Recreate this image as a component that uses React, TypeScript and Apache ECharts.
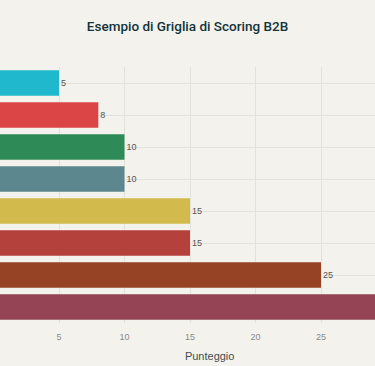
import React, { useEffect, useRef } from "react";
import * as echarts from "echarts";

const categories = [
  "Settore",
  "Localizzazione",
  "Numero Dipendenti",
  "Fatturato",
  "Budget",
  "Autorità Decisionale",
  "Necessità",
  "Tempistica",
];
const values = [5, 8, 10, 10, 15, 15, 25, 30];
const colors = ["#1FB8CD", "#DB4545", "#2E8B57", "#5D878F", "#D2BA4C", "#B4413C", "#964325", "#944454"];
const xTicks = [5, 10, 15, 20, 25];

const PAD = 60;
const VISIBLE_MAX = 29;

export default function App() {
  const ref = useRef<HTMLDivElement>(null);
  useEffect(() => {
    const chart = echarts.init(ref.current!, undefined, { renderer: "svg" });
    const font = "'Liberation Sans', Arial, sans-serif";
    chart.setOption({
      animation: false,
      backgroundColor: "#F3F2EC",
      textStyle: { fontFamily: font },
      title: {
        text: "Esempio di Griglia di Scoring B2B",
        left: "center",
        top: 14,
        textStyle: { fontSize: 13.5, fontWeight: 500, color: "#13343B", fontFamily: "Roboto, 'Liberation Sans', sans-serif" },
      },
      grid: { left: PAD - 6.5, right: 9.2, top: 67, bottom: 37, containLabel: false },
      xAxis: {
        type: "value",
        min: 0,
        max: 33,
        interval: 5,
        name: "Punteggio",
        nameLocation: "middle",
        nameGap: 27,
        nameTextStyle: { fontSize: 11, color: "#3b4f55" },
        axisLine: { show: false },
        axisTick: { show: false },
        axisLabel: {
          fontSize: 9,
          color: "#8a8a8a",
          margin: 9,
          formatter: (v: number) => (xTicks.includes(v) ? String(v) : ""),
        },
        splitLine: { show: true, lineStyle: { color: "#e2e2dc", width: 1 } },
      },
      yAxis: {
        type: "category",
        inverse: true,
        data: categories,
        axisLine: { show: false },
        axisTick: { show: false },
        axisLabel: { show: false },
        splitLine: { show: true, alignWithLabel: true, lineStyle: { color: "#e2e2dc", width: 1 } },
      },
      series: [
        {
          type: "bar",
          barCategoryGap: "20%",
          data: values.map((v, i) => ({
            value: v,
            itemStyle: { color: colors[i] },
            label: { show: v < VISIBLE_MAX },
          })),
          label: { show: true, position: "right", distance: 2, fontSize: 9, color: "#555", fontFamily: font },
        },
      ],
    });
    return () => chart.dispose();
  }, []);
  return (
    <div style={{ position: "absolute", left: 0, top: 0, width: 375, height: 366, overflow: "hidden", background: "#F3F2EC" }}>
      <div ref={ref} style={{ position: "absolute", left: -PAD, top: 0, width: 375 + 2 * PAD, height: 366 }} />
    </div>
  );
}
